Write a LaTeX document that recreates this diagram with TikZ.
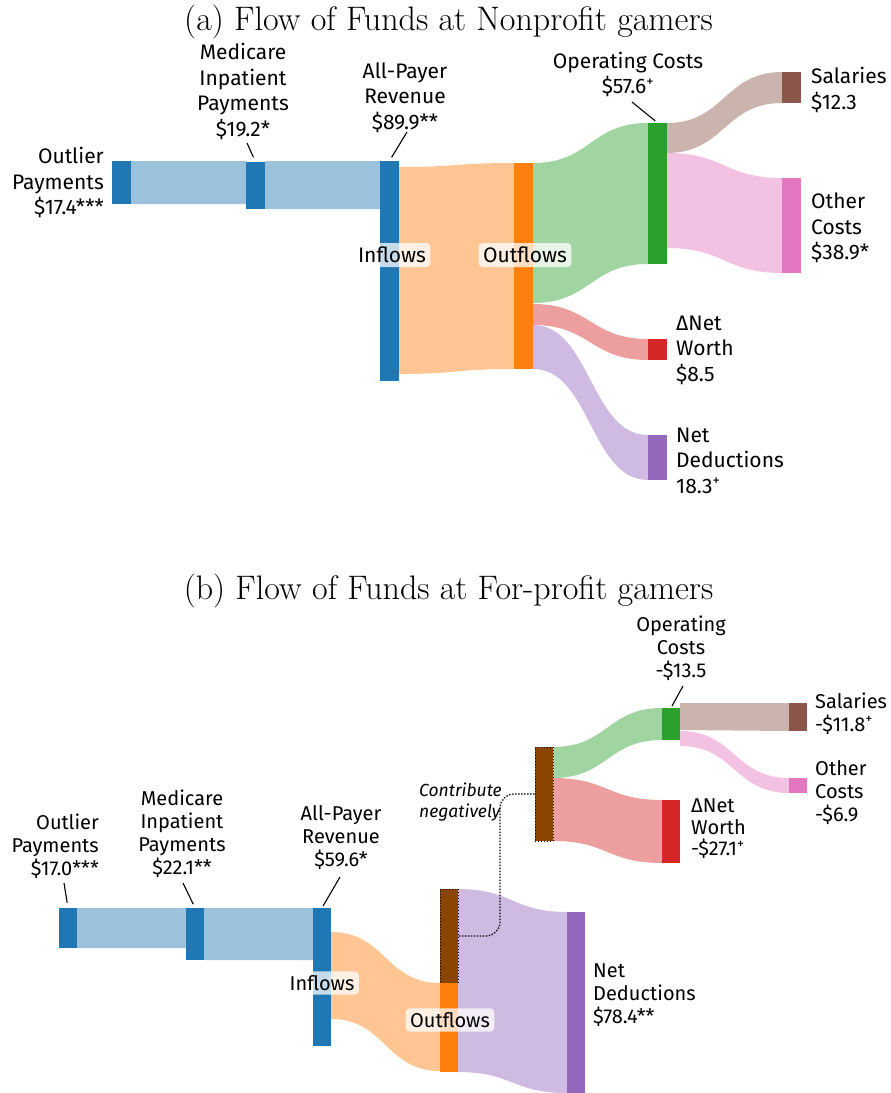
\documentclass[tikz,border=0pt]{standalone}
\usepackage{fontspec}
\newfontfamily\firafont{Fira Sans}
\usetikzlibrary{calc}

\definecolor{tabblue}{RGB}{31,119,180}
\definecolor{taborange}{RGB}{255,127,14}
\definecolor{tabgreen}{RGB}{44,160,44}
\definecolor{tabred}{RGB}{214,39,40}
\definecolor{tabpurple}{RGB}{148,103,189}
\definecolor{tabbrown}{RGB}{140,86,75}
\definecolor{tabpink}{RGB}{227,119,194}
\definecolor{negbrown}{RGB}{139,69,0}

\newcommand{\sankeyfontA}{\firafont\fontsize{21}{25.5}\selectfont}
\newcommand{\sankeyfontB}{\firafont\fontsize{20}{23}\selectfont}
% band: colour, x1, top1, bottom1, x2, top2, bottom2
\newcommand{\band}[7]{\fill[#1!45!white] (#2,#3) .. controls ({(#2+#5)/2},#3) and ({(#2+#5)/2},#6) .. (#5,#6) -- (#5,#7) .. controls ({(#2+#5)/2},#7) and ({(#2+#5)/2},#4) .. (#2,#4) -- cycle;}

\tikzset{
  sbar/.style={inner sep=0, minimum width=19, minimum height=#1},
  sbarB/.style={inner sep=0, minimum width=18, minimum height=#1},
  neg/.style={draw=black, dotted, line width=1, fill=negbrown},
  lblA/.style={font=\sankeyfontA, inner sep=0},
  lblB/.style={font=\sankeyfontB, inner sep=0},
  tag/.style={fill=white, fill opacity=0.75, text opacity=1, rounded corners=4, inner xsep=4.5, inner ysep=4},
  leader/.style={line width=1.1},
  conn/.style={line width=1.2, dash pattern=on 1.5 off 1.5, rounded corners=14},
  ttl/.style={font=\fontsize{34}{36}\selectfont, inner sep=0, anchor=base},
}

\begin{document}
\begin{tikzpicture}[x=1pt,y=-1pt]
\useasboundingbox (0,0) rectangle (891,1093);

% (a) nonprofit
\node[ttl] (titleA) at (448.5,30) {(a) Flow of Funds at Nonprofit gamers};

\band{tabblue}{131}{161}{204}{246}{161}{204}
\band{tabblue}{265}{161}{209}{380}{161}{209}
\band{taborange}{399}{167}{374}{514}{163}{369}
\band{tabgreen}{533}{163}{303}{648}{123}{264}
\band{tabred}{533}{304}{325}{648}{339}{360}
\band{tabpurple}{533}{325}{369}{648}{435}{480}
\band{tabbrown}{667}{123}{153}{782}{72}{103}
\band{tabpink}{667}{153}{248}{782}{178}{273}

\node[sbar=43, fill=tabblue] (outA) at (121.5,182.5) {};
\node[sbar=47, fill=tabblue] (medA) at (255.5,185.5) {};
\node[sbar=220, fill=tabblue] (allA) at (389.5,271) {};
\node[sbar=206, fill=taborange] (outfA) at (523.5,266) {};
\node[sbar=141, fill=tabgreen] (opsA) at (657.5,193.5) {};
\node[sbar=21, fill=tabred] (nwA) at (657.5,349.5) {};
\node[sbar=45, fill=tabpurple] (ndA) at (657.5,457.5) {};
\node[sbar=31, fill=tabbrown] (salA) at (791.5,87.5) {};
\node[sbar=95, fill=tabpink] (othA) at (791.5,225.5) {};

\node[tag, font=\sankeyfontA] (inA) at (392,255) {Inflows};
\node[tag, font=\sankeyfontA] (outsA) at (525,255) {Outflows};

\node[lblA, align=right, anchor=east] (outAlbl) at (104,182.5) {Outlier\\Payments\\\$17.4***};
\node[lblA, align=center] (medAlbl) at (243,91.5) {Medicare\\Inpatient\\Payments\\\$19.2*};
\node[lblA, align=center] (allAlbl) at (405,97.5) {All-Payer\\Revenue\\\$89.9**};
\node[lblA, align=center] (opsAlbl) at (628,74.5) {Operating Costs\\\$57.6\textsuperscript{+}};
\node[lblA, align=left, anchor=west] (salAlbl) at (811,90) {Salaries\\\$12.3};
\node[lblA, align=left, anchor=west] (othAlbl) at (811,228) {Other\\Costs\\\$38.9*};
\node[lblA, align=left, anchor=west] (nwAlbl) at (676,350) {ΔNet\\Worth\\\$8.5};
\node[lblA, align=left, anchor=west] (ndAlbl) at (676,460.5) {Net\\Deductions\\18.3\textsuperscript{+}};

\coordinate (medAtip) at (247,143);
\coordinate (allAtip) at (407,132);
\coordinate (opsAtip) at (632,102);
\draw[leader, shorten >=5] (medAtip) -- (medA.north);
\draw[leader, shorten >=4] (allAtip) -- (allA.north);
\draw[leader, shorten >=3] (opsAtip) -- (opsA.north);

% (b) for-profit
\node[ttl] (titleB) at (448.5,599) {(b) Flow of Funds at For-profit gamers};

\band{tabblue}{77}{908}{948}{186}{908}{948}
\band{tabblue}{204}{908}{960}{313}{908}{960}
\band{taborange}{331}{932}{1019}{440}{983}{1071}
\band{tabpurple}{458}{889}{1072}{567}{912}{1093}
\band{tabgreen}{553}{747}{778}{662}{708}{740}
\band{tabred}{553}{778}{841}{662}{800}{863}
\band{tabbrown}{680}{703}{730}{789}{703}{731}
\band{tabpink}{680}{731}{746}{789}{778}{793}

\node[sbarB=40, fill=tabblue] (outB) at (68,928) {};
\node[sbarB=52, fill=tabblue] (medB) at (195,934) {};
\node[sbarB=138, fill=tabblue] (allB) at (322,977) {};
\node[sbarB=94, neg] (negB) at (449,936) {};
\node[sbarB=89, fill=taborange] (outfB) at (449,1027.5) {};
\node[sbarB=181, fill=tabpurple] (ndB) at (576,1002.5) {};
\node[sbarB=94, neg] (negC) at (544,794) {};
\node[sbarB=32, fill=tabgreen] (opsB) at (671,724) {};
\node[sbarB=63, fill=tabred] (nwB) at (671,831.5) {};
\node[sbarB=28, fill=tabbrown] (salB) at (798,717) {};
\node[sbarB=15, fill=tabpink] (othB) at (798,785.5) {};

\node[tag, font=\sankeyfontB] (inB) at (322,983) {Inflows};
\node[tag, font=\sankeyfontB] (outsB) at (450,1020) {Outflows};

\node[lblB, align=right, anchor=east] (outBlbl) at (99,846) {Outlier\\Payments\\\$17.0***};
\node[lblB, align=center] (medBlbl) at (182,834) {Medicare\\Inpatient\\Payments\\\$22.1**};
\node[lblB, align=center] (allBlbl) at (341,838) {All-Payer\\Revenue\\\$59.6*};
\node[lblB, align=center] (opsBlbl) at (681,648) {Operating\\Costs\\-\$13.5};
\node[lblB, align=left, anchor=west] (salBlbl) at (815,713.5) {Salaries\\-\$11.8\textsuperscript{+}};
\node[lblB, align=left, anchor=west] (othBlbl) at (815,793) {Other\\Costs\\-\$6.9};
\node[lblB, align=left, anchor=west, font=\firafont\fontsize{20}{21.5}\selectfont] (nwBlbl) at (691,829) {ΔNet\\Worth\\-\$27.1\textsuperscript{+}};
\node[lblB, align=left, anchor=west] (ndBlbl) at (593,995) {Net\\Deductions\\\$78.4**};
\node[inner sep=0, align=left, anchor=west, font=\firafont\itshape\fontsize{17.5}{21}\selectfont] (negLbl) at (419,802.5) {Contribute\\negatively};

\coordinate (outBtip) at (64,883);
\coordinate (medBtip) at (183,883);
\coordinate (allBtip) at (340,877);
\coordinate (opsBtip) at (683,686);
\draw[leader, shorten >=5] (outBtip) -- (outB.north);
\draw[leader, shorten >=4] (medBtip) -- (medB.north);
\draw[leader, shorten >=2] (allBtip) -- (allB.north);
\draw[leader, shorten >=2] (opsBtip) -- (opsB.north);

\coordinate (negBend) at (500,936);
\draw[conn] (negC.west) -| (negBend) -- (negB.east);
\end{tikzpicture}
\end{document}
